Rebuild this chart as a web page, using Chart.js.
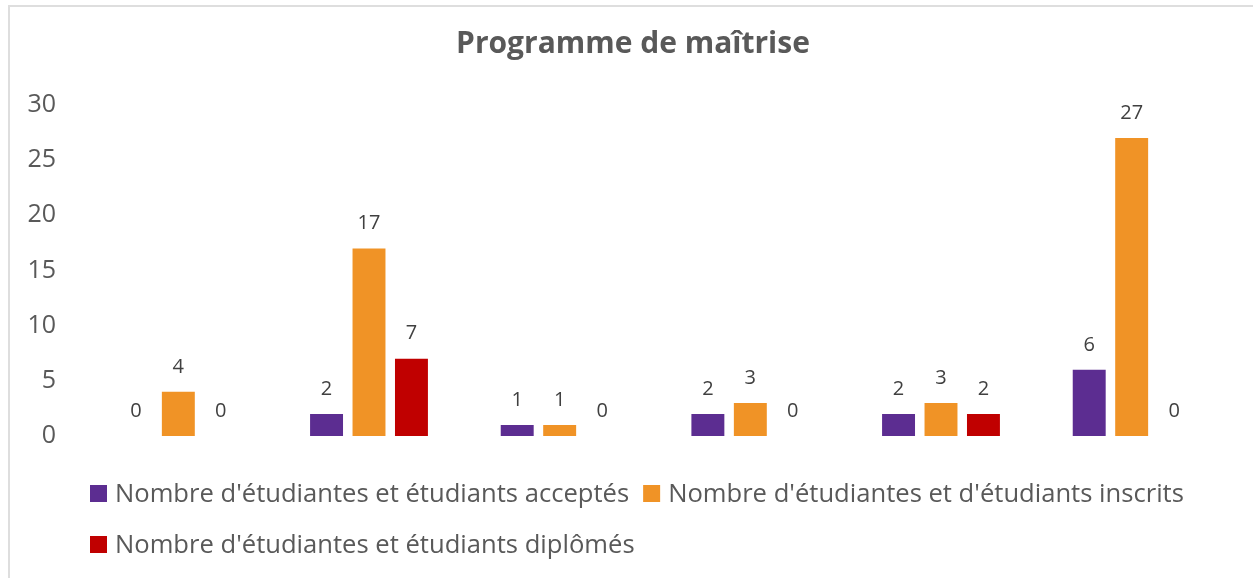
<!DOCTYPE html>
<html>
<head>
<meta charset="utf-8">
<title>Programme de maîtrise</title>
<script src="https://cdn.jsdelivr.net/npm/chart.js@4/dist/chart.umd.min.js"></script>
<style>
  html, body { margin: 0; padding: 0; background: #fff; overflow: hidden; }
  #wrap { position: relative; width: 1253px; height: 578px; }
  #frame { position: absolute; left: 8px; top: 5px; right: -4px; bottom: -4px;
           border-top: 2px solid #dedede; border-left: 2px solid #dedede; }
  #chart { position: absolute; left: 0; top: 0; }
</style>
</head>
<body>
<div id="wrap">
  <div id="frame"></div>
  <canvas id="chart" width="1253" height="578"></canvas>
</div>
<script>
// categories are not labelled in the original chart
var categories = ["1", "2", "3", "4", "5", "6"];
var acceptes = [0, 2, 1, 2, 2, 6];
var inscrits = [4, 17, 1, 3, 3, 27];
var diplomes = [0, 7, 0, 0, 2, 0];
var yTicks = [0, 5, 10, 15, 20, 25, 30];

var textGray = "#595959";
var fontName = "'Open Sans'";

// value labels above each bar
var valueLabels = {
  id: "valueLabels",
  afterDatasetsDraw: function (chart) {
    var ctx = chart.ctx;
    ctx.save();
    ctx.font = "20px " + fontName;
    ctx.fillStyle = "#404040";
    ctx.textAlign = "center";
    ctx.textBaseline = "middle";
    chart.data.datasets.forEach(function (ds, i) {
      chart.getDatasetMeta(i).data.forEach(function (bar, j) {
        ctx.fillText(String(ds.data[j]), bar.x, bar.y - 25);
      });
    });
    ctx.restore();
  }
};

// legend laid out like the Excel one: left aligned, wrapped rows
var bottomLegend = {
  id: "bottomLegend",
  afterDraw: function (chart) {
    var ctx = chart.ctx;
    var x0 = 90, x = x0;
    var y = chart.chartArea.bottom + 57.5;
    var rowGap = 51, box = 17;
    ctx.save();
    ctx.font = "25.6px " + fontName;
    ctx.textBaseline = "middle";
    ctx.textAlign = "left";
    chart.data.datasets.forEach(function (ds) {
      var w = box + 8 + ctx.measureText(ds.label).width;
      if (x > x0 && x + w > chart.width - 20) {
        x = x0;
        y += rowGap;
      }
      ctx.fillStyle = ds.backgroundColor;
      ctx.fillRect(x, y - box / 2, box, box);
      ctx.fillStyle = textGray;
      ctx.fillText(ds.label, x + box + 8, y + 1);
      x += w + 14;
    });
    ctx.restore();
  }
};

new Chart(document.getElementById("chart"), {
  type: "bar",
  data: {
    labels: categories,
    datasets: [{
      label: "Nombre d'étudiantes et étudiants acceptés",
      data: acceptes,
      backgroundColor: "#5C2D91"
    }, {
      label: "Nombre d'étudiantes et d'étudiants inscrits",
      data: inscrits,
      backgroundColor: "#F09326"
    }, {
      label: "Nombre d'étudiantes et étudiants diplômés",
      data: diplomes,
      backgroundColor: "#C00000"
    }]
  },
  options: {
    responsive: false,
    animation: false,
    layout: { padding: { left: 27, right: 14, top: 0, bottom: 142 } },
    datasets: {
      bar: { categoryPercentage: 0.668, barPercentage: 0.776 }
    },
    scales: {
      x: { display: false },
      y: {
        min: 0,
        max: 30,
        afterBuildTicks: function (scale) {
          scale.ticks = yTicks.map(function (v) { return { value: v }; });
        },
        afterFit: function (scale) { scale.width = 56; },
        grid: { display: false, drawTicks: false },
        border: { display: false },
        ticks: { padding: 27, color: textGray, font: { family: fontName, size: 25 } }
      },
      // empty right margin inside the plot frame
      yRight: {
        position: "right",
        min: 0,
        max: 30,
        afterFit: function (scale) { scale.width = 12; },
        grid: { display: false, drawTicks: false },
        border: { display: false },
        ticks: { display: false }
      }
    },
    plugins: {
      legend: { display: false },
      tooltip: { enabled: false },
      title: {
        display: true,
        text: "Programme de maîtrise",
        color: textGray,
        font: { family: fontName, size: 30, weight: "bold" },
        padding: { top: 26, bottom: 43 }
      }
    }
  },
  plugins: [valueLabels, bottomLegend]
});
</script>
</body>
</html>
